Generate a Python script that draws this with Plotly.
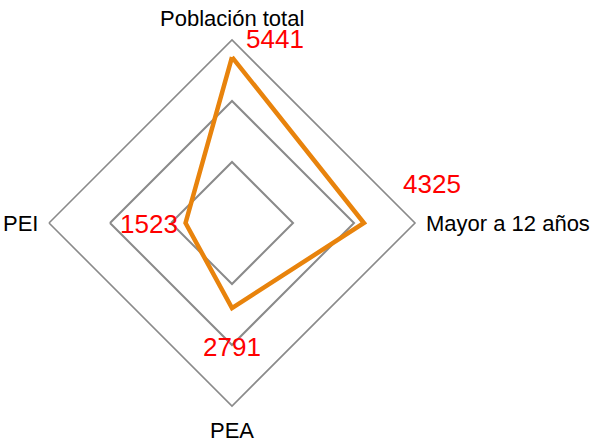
import numpy as np
import plotly.graph_objects as go

categories = ["Población total", "Mayor a 12 años", "PEA", "PEI"]
values = [5441, 4325, 2791, 1523]
r_max = 6000
grid_levels = [2000, 4000, 6000]

# offsets (px) of the value labels and category labels from their anchor points
value_label_shifts = [(43, 18), (68, 39), (0, -39), (-37, -1)]
category_label_style = [
    dict(xanchor="center", yanchor="middle", xshift=0, yshift=22),
    dict(xanchor="left", yanchor="middle", xshift=9, yshift=0),
    dict(xanchor="center", yanchor="middle", xshift=0, yshift=-24),
    dict(xanchor="right", yanchor="middle", xshift=-9, yshift=0),
]

dom_x = [49 / 597, 415 / 597]
dom_y = [35 / 441, 401 / 441]

r_closed = values + values[:1]
theta_closed = categories + categories[:1]

fig = go.Figure()

fig.add_trace(go.Scatterpolar(
    r=r_closed,
    theta=theta_closed,
    mode="lines",
    line=dict(color="#E8830C", width=4.5),
    hoverinfo="skip",
    showlegend=False,
))

# angle of each category, clockwise from the top
angles = np.arange(len(categories)) * 2 * np.pi / len(categories)
sin_a = np.round(np.sin(angles), 9)
cos_a = np.round(np.cos(angles), 9)

for v, s, ca, sa in zip(values, value_label_shifts, cos_a, sin_a):
    fig.add_annotation(
        x=v * sa, y=v * ca, xref="x", yref="y",
        text=str(v), showarrow=False,
        xshift=s[0], yshift=s[1],
        font=dict(family="Liberation Sans", size=26, color="#FF0000"),
    )

for cat, st, ca, sa in zip(categories, category_label_style, cos_a, sin_a):
    fig.add_annotation(
        x=r_max * sa, y=r_max * ca, xref="x", yref="y",
        text=cat, showarrow=False,
        font=dict(family="Liberation Sans", size=22, color="#000000"),
        **st,
    )

fig.update_layout(
    template="none",
    width=597,
    height=441,
    margin=dict(l=0, r=0, t=0, b=0),
    paper_bgcolor="white",
    plot_bgcolor="rgba(0,0,0,0)",
    showlegend=False,
    xaxis=dict(domain=dom_x, range=[-r_max, r_max], visible=False, fixedrange=True),
    yaxis=dict(domain=dom_y, range=[-r_max, r_max], visible=False, fixedrange=True),
    polar=dict(
        domain=dict(x=dom_x, y=dom_y),
        gridshape="linear",
        bgcolor="rgba(0,0,0,0)",
        radialaxis=dict(
            range=[0, r_max],
            tickvals=grid_levels,
            showticklabels=False,
            ticks="",
            showline=False,
            gridcolor="#8A8A8A",
            gridwidth=1.6,
        ),
        angularaxis=dict(
            rotation=90,
            direction="clockwise",
            showgrid=False,
            showline=True,
            linecolor="#8A8A8A",
            linewidth=1.6,
            ticks="",
            showticklabels=False,
        ),
    ),
)

fig.write_html("out.html")
